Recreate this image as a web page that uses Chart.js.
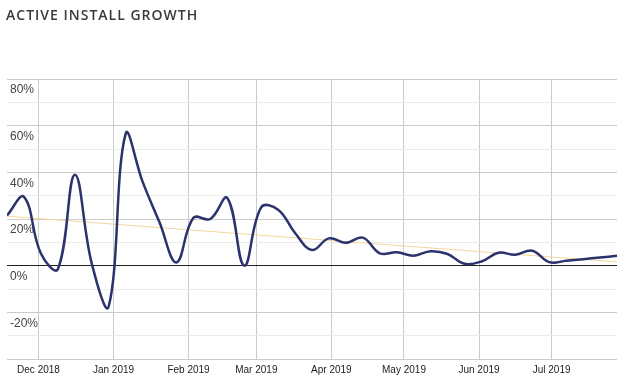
<!DOCTYPE html>
<html>
<head>
<meta charset="utf-8">
<script src="https://cdn.jsdelivr.net/npm/chart.js@4"></script>
<style>
    body { margin: 0; background: #fff; }
    #wrap { position: relative; width: 629px; height: 388px; }
    #title {
        position: absolute; left: 6px; top: 5px;
        font-family: "Open Sans", sans-serif; font-weight: 600;
        font-size: 14px; line-height: 20px; letter-spacing: 1px;
        color: #3a3a3a;
    }
    canvas { position: absolute; left: 0; top: 0; }
</style>
</head>
<body>
<div id="wrap">
    <canvas id="growth" width="629" height="388"></canvas>
    <div id="title">ACTIVE INSTALL GROWTH</div>
</div>
<script>
// weekly points (Sundays)
const WEEKS = [
    "2018-11-18", "2018-11-25", "2018-12-02", "2018-12-09", "2018-12-16", "2018-12-23", "2018-12-30",
    "2019-01-06", "2019-01-13", "2019-01-20", "2019-01-27", "2019-02-03", "2019-02-10", "2019-02-17",
    "2019-02-24", "2019-03-03", "2019-03-10", "2019-03-17", "2019-03-24", "2019-03-31", "2019-04-07",
    "2019-04-14", "2019-04-21", "2019-04-28", "2019-05-05", "2019-05-12", "2019-05-19", "2019-05-26",
    "2019-06-02", "2019-06-09", "2019-06-16", "2019-06-23", "2019-06-30", "2019-07-07", "2019-07-14",
    "2019-07-21", "2019-07-28"
];
const GROWTH = [
    21.5, 29.5, 5.2, -1.5, 39, 1, -17.5,
    56.5, 36, 18.6, 1.4, 20.5, 20, 29,
    0, 25, 24, 14, 6.7, 11.7, 9.8,
    12, 5.3, 5.7, 4.3, 6.2, 5, 0.8,
    1.8, 5.5, 4.7, 6.4, 1.5, 2.1, 2.8,
    3.5, 4.2
];
const TREND_START = 21.2;
const TREND_END = 1.6;

const MONTH_STARTS = ["2018-12-01", "2019-01-01", "2019-02-01", "2019-03-01", "2019-04-01",
    "2019-05-01", "2019-06-01", "2019-07-01"];
const MONTH_LABELS = ["Dec 2018", "Jan 2019", "Feb 2019", "Mar 2019", "Apr 2019",
    "May 2019", "Jun 2019", "Jul 2019"];
const Y_LABELED = [80, 60, 40, 20, 0, -20];

function toDay(s) {
    return Date.parse(s + "T00:00:00Z") / 86400000;
}

var points = [];
for (let i = 0; i < WEEKS.length; i++) {
    points.push({ x: toDay(WEEKS[i]), y: GROWTH[i] });
}
const firstDay = points[0].x;
const lastDay = points[points.length - 1].x;
const monthDays = MONTH_STARTS.map(toDay);

window.onload = function () {
    var ctx = document.getElementById("growth").getContext("2d");
    new Chart(ctx, {
        type: "line",
        data: {
            datasets: [{
                data: points,
                borderColor: "#2b326c",
                borderWidth: 2.5,
                pointRadius: 0,
                fill: false,
                tension: 0.4,
            },
            {
                data: [{ x: firstDay, y: TREND_START }, { x: lastDay, y: TREND_END }],
                borderColor: "#f3d69c",
                borderWidth: 1,
                pointRadius: 0,
                fill: false,
            }],
        },
        options: {
            responsive: false,
            animation: false,
            layout: { padding: { left: 1, right: 12, top: 79, bottom: 7 } },
            scales: {
                x: {
                    type: "linear",
                    min: firstDay,
                    max: lastDay,
                    border: { display: false },
                    grid: { color: "#cccccc", drawTicks: false },
                    afterBuildTicks: function (axis) {
                        axis.ticks = monthDays.map(function (d) { return { value: d }; });
                    },
                    ticks: {
                        autoSkip: false,
                        maxRotation: 0,
                        padding: 5,
                        color: "#222",
                        font: { family: "Liberation Sans, Arial", size: 10 },
                        callback: function (v, i) { return MONTH_LABELS[i]; }
                    }
                },
                y: {
                    min: -40,
                    max: 80,
                    border: { display: false },
                    grid: {
                        drawTicks: false,
                        color: function (c) {
                            if (c.tick.value === 0) return "#222";
                            return c.tick.value % 20 === 0 ? "#cccccc" : "#ebebeb";
                        }
                    },
                    ticks: {
                        stepSize: 10,
                        mirror: true,
                        padding: 3,
                        labelOffset: 11,
                        color: "#444",
                        font: { family: "Liberation Sans, Arial", size: 12 },
                        callback: function (v) {
                            return Y_LABELED.indexOf(v) >= 0 ? v + "%" : "";
                        }
                    }
                }
            },
            plugins: {
                legend: { display: false },
                tooltip: { enabled: false }
            }
        }
    });
};
</script>
</body>
</html>
